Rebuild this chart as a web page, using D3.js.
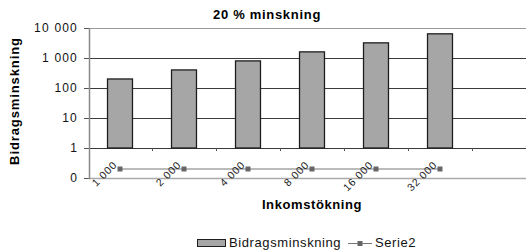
<!DOCTYPE html>
<html>
<head>
<meta charset="utf-8">
<script src="https://cdn.jsdelivr.net/npm/d3@7"></script>
<style>
  body { margin: 0; background: #fff; }
  svg { display: block; font-family: "Liberation Sans", Arial, sans-serif; }
</style>
</head>
<body>
<svg id="chart"></svg>
<script>
// data
const categories = ["1 000", "2 000", "4 000", "8 000", "16 000", "32 000"];
const slots = categories.concat([""]);   // empty 7th category in the original
const bidragsminskning = [200, 400, 800, 1600, 3200, 6400];
const serie2 = [0.3, 0.3, 0.3, 0.3, 0.3, 0.3];
const logTicks = [1, 10, 100, 1000, 10000];
const lowTicks = [0];

const width = 526, height = 252;
const margin = {top: 28, right: -10, bottom: 74, left: 89};
const lowBand = 30; // space between "1" and "0"

const svg = d3.select('#chart')
    .attr('width', width)
    .attr('height', height);

const x = d3.scaleBand()
    .domain(slots)
    .range([margin.left - 1, width - margin.right]);

const yLog = d3.scaleLog()
    .domain([1, 10000])
    .range([height - margin.bottom - lowBand, margin.top]);

const yLow = d3.scaleLinear()
    .domain([0, 1])
    .range([height - margin.bottom, height - margin.bottom - lowBand]);

const fmt = d => d3.format(',d')(d).replace(/,/g, ' ');

// gridlines
const grid = svg.append('g');
grid.selectAll('line')
    .data(logTicks)
    .join('line')
    .attr('x1', margin.left)
    .attr('x2', width)
    .attr('y1', d => Math.round(yLog(d)) + 0.5)
    .attr('y2', d => Math.round(yLog(d)) + 0.5)
    .attr('stroke', d => d === 10000 ? '#999' : '#3a3a3a')
    .attr('stroke-width', 1);

// bottom axis line
svg.append('line')
    .attr('x1', margin.left)
    .attr('x2', width)
    .attr('y1', yLow(0) + 0.5)
    .attr('y2', yLow(0) + 0.5)
    .attr('stroke', '#aaa')
    .attr('stroke-width', 1.5);

// bars
const barW = x.bandwidth() * 0.39;
svg.append('g')
    .selectAll('rect')
    .data(bidragsminskning)
    .join('rect')
    .attr('x', (d, i) => x(categories[i]) + (x.bandwidth() - barW) / 2)
    .attr('width', barW)
    .attr('y', d => yLog(d))
    .attr('height', d => yLog(1) - yLog(d))
    .attr('fill', '#a6a6a6')
    .attr('stroke', '#1e1e1e')
    .attr('stroke-width', 1.3);

// category tick marks on the "1" line
svg.append('g')
    .selectAll('line')
    .data(slots.slice(1))
    .join('line')
    .attr('x1', d => x(d) + 0.5)
    .attr('x2', d => x(d) + 0.5)
    .attr('y1', yLog(1))
    .attr('y2', yLog(1) + 3)
    .attr('stroke', '#555');

// y axis
const yAxis = g => g.attr('transform', `translate(${margin.left},0)`)
    .call(d3.axisLeft(yLog).tickValues(logTicks).tickSize(5).tickPadding(6).tickFormat(fmt))
    .call(g => g.select('.domain').remove());
const yAxisLow = g => g.attr('transform', `translate(${margin.left},0)`)
    .call(d3.axisLeft(yLow).tickValues(lowTicks).tickSize(5).tickPadding(6).tickFormat(fmt))
    .call(g => g.select('.domain').remove());
svg.append('g').call(yAxis);
svg.append('g').call(yAxisLow);
svg.selectAll('.tick line').attr('stroke', '#555');
svg.selectAll('.tick text')
    .attr('font-size', 12)
    .attr('letter-spacing', 1.2)
    .attr('fill', '#111')
    .style('font-family', '"Liberation Sans", Arial, sans-serif');

// y axis line
svg.append('line')
    .attr('x1', margin.left + 0.5)
    .attr('x2', margin.left + 0.5)
    .attr('y1', yLog(10000))
    .attr('y2', yLow(0) + 1)
    .attr('stroke', '#888')
    .attr('stroke-width', 1.5);

// serie2 line + markers
const cx = (d, i) => x(categories[i]) + x.bandwidth() / 2;
const line = d3.line()
    .x((d, i) => cx(d, i))
    .y(d => yLow(d));
svg.append('path')
    .datum(serie2)
    .attr('d', line)
    .attr('fill', 'none')
    .attr('stroke', '#777')
    .attr('stroke-width', 1);
svg.append('g')
    .selectAll('rect')
    .data(serie2)
    .join('rect')
    .attr('x', (d, i) => cx(d, i) - 2.5)
    .attr('y', d => yLow(d) - 2.5)
    .attr('width', 5)
    .attr('height', 5)
    .attr('fill', '#666');

// rotated category labels
svg.append('g')
    .selectAll('text')
    .data(categories)
    .join('text')
    .attr('transform', d => `translate(${x(d) + x.bandwidth() / 2 - 5},${yLow(0.5)}) rotate(-45)`)
    .attr('text-anchor', 'end')
    .attr('dy', '0.35em')
    .attr('font-size', 10.5)
    .attr('letter-spacing', 0.8)
    .attr('fill', '#222')
    .text(d => d);

// titles
svg.append('text')
    .attr('x', 267)
    .attr('y', 19)
    .attr('text-anchor', 'middle')
    .attr('font-size', 13)
    .attr('font-weight', 'bold')
    .attr('letter-spacing', 0.7)
    .text('20 % minskning');

svg.append('text')
    .attr('transform', 'translate(19,101) rotate(-90)')
    .attr('text-anchor', 'middle')
    .attr('font-size', 13)
    .attr('font-weight', 'bold')
    .attr('letter-spacing', 0.9)
    .text('Bidragsminskning');

svg.append('text')
    .attr('x', 312)
    .attr('y', 209)
    .attr('text-anchor', 'middle')
    .attr('font-size', 13)
    .attr('font-weight', 'bold')
    .attr('letter-spacing', 0.6)
    .text('Inkomstökning');

// legend
const legend = svg.append('g');
legend.append('rect')
    .attr('x', 197.5).attr('y', 239.5)
    .attr('width', 28).attr('height', 7)
    .attr('fill', '#a6a6a6')
    .attr('stroke', '#1e1e1e');
legend.append('text')
    .attr('x', 229).attr('y', 247)
    .attr('font-size', 13)
    .attr('letter-spacing', 0.6)
    .attr('fill', '#111')
    .text('Bidragsminskning');
legend.append('line')
    .attr('x1', 348).attr('x2', 372)
    .attr('y1', 243.5).attr('y2', 243.5)
    .attr('stroke', '#777');
legend.append('rect')
    .attr('x', 357.5).attr('y', 241)
    .attr('width', 5).attr('height', 5)
    .attr('fill', '#666');
legend.append('text')
    .attr('x', 375).attr('y', 247)
    .attr('font-size', 13)
    .attr('letter-spacing', 0.6)
    .attr('fill', '#111')
    .text('Serie2');
</script>
</body>
</html>
